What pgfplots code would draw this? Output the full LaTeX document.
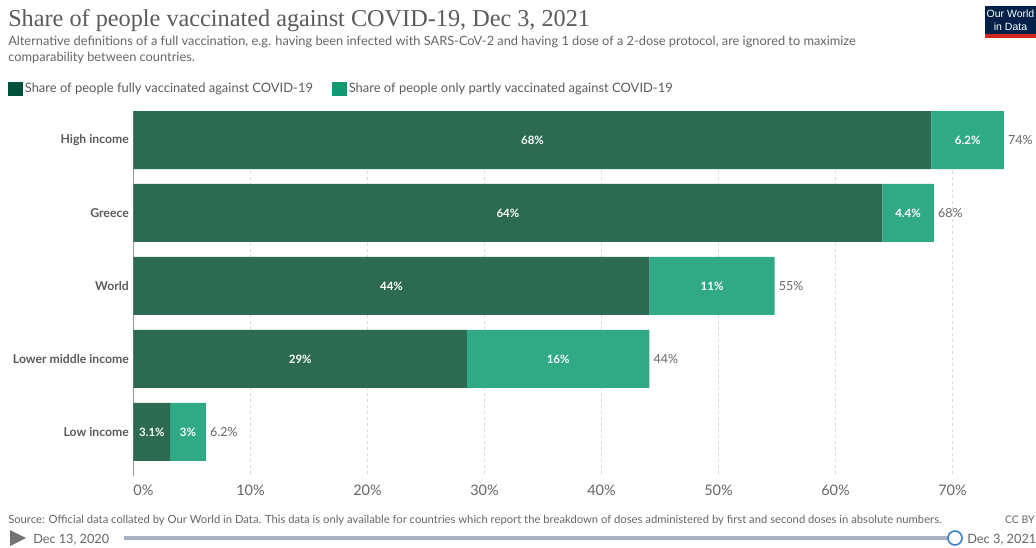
\documentclass[border=0pt]{standalone}
\usepackage{pgfplots}
\usepackage{pgfplotstable}
\usepackage{fontspec}
\pgfplotsset{compat=1.18}
\setmainfont{Lato}
\newfontfamily\titlefont{Liberation Serif}
\newfontfamily\logofont{Liberation Sans}
\definecolor{fullbar}{HTML}{2C6A52}
\definecolor{partbar}{HTML}{30A985}
\definecolor{fullkey}{HTML}{00523B}
\definecolor{partkey}{HTML}{0F9A72}
\definecolor{txt}{HTML}{666666}
\definecolor{lab}{HTML}{5B5B5B}
\definecolor{navy}{HTML}{002147}
\definecolor{logored}{HTML}{CE261E}
\definecolor{track}{HTML}{A9B2C2}
\definecolor{knob}{HTML}{3D82C4}
% Font size given in canvas pixels (1 px = 0.75 pt)
\newcommand{\pxfont}[1]{\fontsize{\dimexpr#1pt*3/4\relax}{\dimexpr#1pt*9/10\relax}\selectfont}
\pgfplotstableread{
row full  partly flabel plabel tlabel
0   68.2  6.2    68     6.2    74
1   64.0  4.4    64     4.4    68
2   44.1  10.7   44     11     55
3   28.5  15.6   29     16     44
4   3.14  3.04   3.1    3      6.2
}\vaccine
\pgfplotsset{
  shared/.style={
    at={(100.125pt,-357pt)}, anchor=south west,
    scale only axis, width=666.9pt, height=273.75pt,
    xmin=0, xmax=76, ymin=-0.397, ymax=4.603, y dir=reverse,
  },
  barlabel/.style={
    only marks, mark=none, forget plot, point meta=explicit symbolic,
    nodes near coords={\pgfplotspointmeta\%},
  },
}
\begin{document}
\begin{tikzpicture}[x=0.75pt,y=-0.75pt]
\path[use as bounding box,clip] (0,0) rectangle (1036,547);
\fill[white] (0,0) rectangle (1036,547);
% Heading
\node[anchor=base west,inner sep=0,text=lab] at (8,26) {\titlefont\pxfont{24.25}Share of people vaccinated against COVID-19, Dec 3, 2021};
\node[anchor=base west,inner sep=0,text=txt] at (8,45) {\pxfont{12.8}Alternative definitions of a full vaccination, e.g. having been infected with SARS-CoV-2 and having 1 dose of a 2-dose protocol, are ignored to maximize};
\node[anchor=base west,inner sep=0,text=txt] at (8,61) {\pxfont{12.8}comparability between countries.};
% Logo
\fill[navy] (985,6) rectangle (1040,34);
\fill[logored] (985,34) rectangle (1040,38);
\node[text=white,align=center,inner sep=0,font=\logofont\pxfont{10.5}] at (1010.5,20) {Our World\\in Data};
% Stacked bars
\begin{axis}[
  shared,
  xbar stacked, bar width=43.5pt,
  axis lines*=left,
  x axis line style={draw=none},
  y axis line style={draw=black!40,-},
  major tick length=0pt,
  xtick={0,10,20,30,40,50,60,70},
  xticklabels={\makebox[0pt][l]{0\%},10\%,20\%,30\%,40\%,50\%,60\%,70\%},
  ytick={0,1,2,3,4},
  yticklabels={High income,Greece,World,Lower middle income,Low income},
  xmajorgrids,
  grid style={draw=black!15,dash pattern=on 2pt off 2.5pt},
  x tick label style={font=\pxfont{14.5},text=txt,yshift=-3.5pt},
  y tick label style={font=\pxfont{12.2}\bfseries,text=lab},
  tick label style={/pgf/number format/assume math mode=true},
  xticklabel style={anchor=north},
  legend columns=2,
  legend cell align=left,
  legend style={at={(-0.1411,1.0845)},anchor=north west,draw=none,fill=none,inner sep=0pt,
    font=\pxfont{12.95},text=lab,
    /tikz/every even column/.style={column sep=12.5pt}},
  legend image code/.code={\fill[#1] (0pt,-5pt) rectangle (10pt,5pt);},
]
\addlegendimage{fullkey}
\addlegendentry{Share of people fully vaccinated against COVID-19}
\addlegendimage{partkey}
\addlegendentry{Share of people only partly vaccinated against COVID-19}
\addplot[fill=fullbar,draw=none,forget plot] table[x=full,y=row] {\vaccine};
\addplot[fill=partbar,draw=none,forget plot] table[x=partly,y=row] {\vaccine};
\end{axis}
% Value labels, positioned from the same table
\begin{axis}[shared, hide axis, clip=false,
  nodes near coords style={font=\pxfont{11.5}\bfseries,text=white,anchor=center,inner sep=0pt}]
\addplot[barlabel] table[x expr=\thisrow{full}/2,y=row,meta=flabel] {\vaccine};
\addplot[barlabel] table[x expr=\thisrow{full}+\thisrow{partly}/2,y=row,meta=plabel] {\vaccine};
\addplot[barlabel,nodes near coords style={font=\pxfont{12.5},text=txt,anchor=west,xshift=3pt,inner sep=0pt}]
  table[x expr=\thisrow{full}+\thisrow{partly},y=row,meta=tlabel] {\vaccine};
\end{axis}
% Footer
\node[anchor=base west,inner sep=0,text=txt] at (8,523) {\pxfont{11.25}Source: Official data collated by Our World in Data. This data is only available for countries which report the breakdown of doses administered by first and second doses in absolute numbers.};
\node[anchor=base east,inner sep=0,text=txt] at (1035,523) {\pxfont{10.5}CC BY};
% Timeline control
\fill[black!55] (10,530) -- (26,538) -- (10,546) -- cycle;
\node[anchor=base west,inner sep=0,text=txt] at (33,543) {\pxfont{12.7}Dec 13, 2020};
\draw[track,line width=3pt] (124,538) -- (950,538);
\draw[knob,fill=white,line width=1.2pt] (955,538) circle[radius=7];
\node[anchor=base west,inner sep=0,text=txt] at (967,543) {\pxfont{12.8}Dec 3, 2021};
\end{tikzpicture}
\end{document}
